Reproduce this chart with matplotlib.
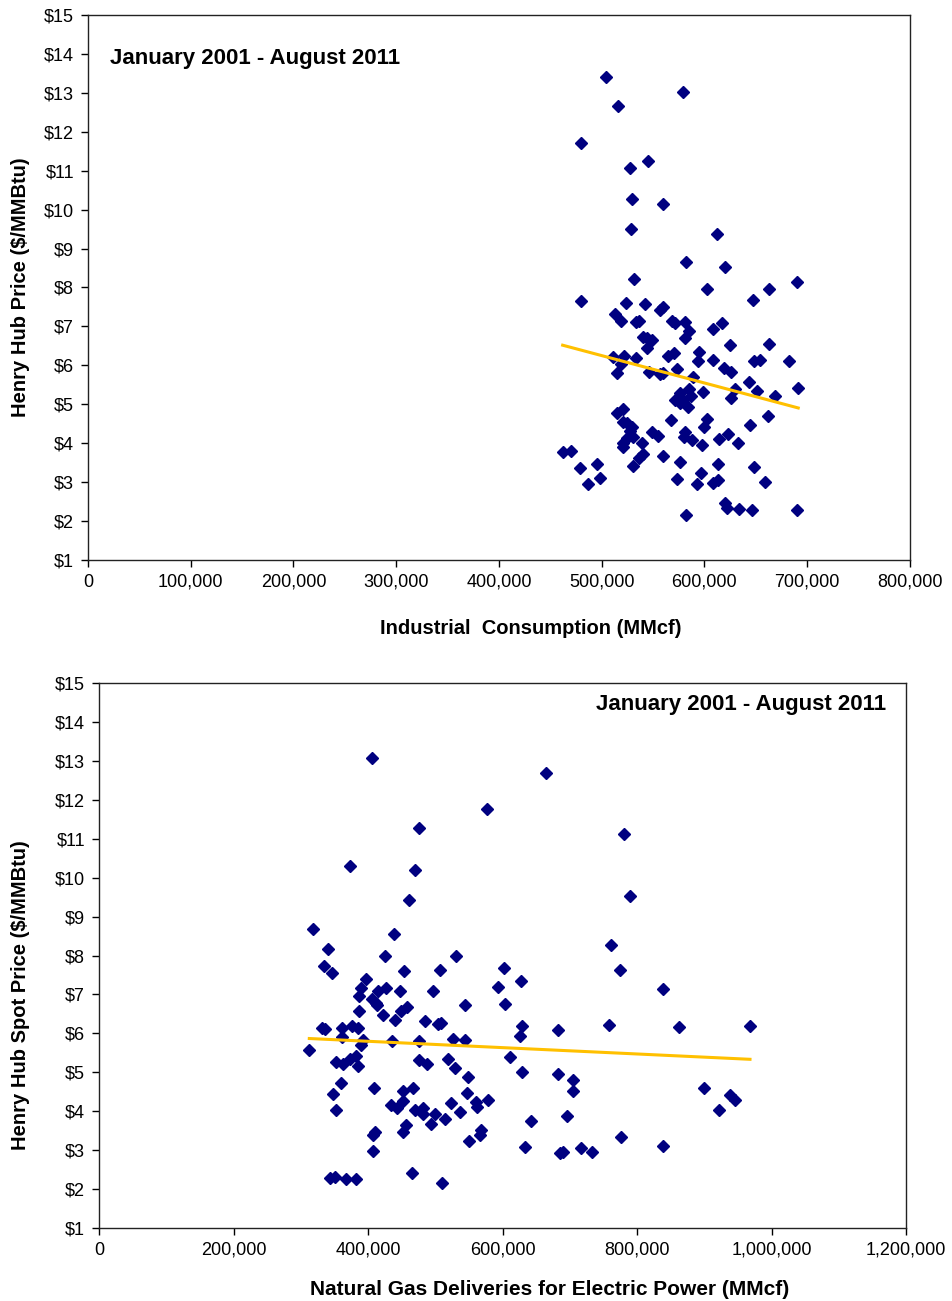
import matplotlib
matplotlib.use("Agg")
import matplotlib.pyplot as plt
import numpy as np
from matplotlib.ticker import FuncFormatter, MultipleLocator

plt.rcParams['font.family'] = ['Liberation Sans', 'DejaVu Sans']

# Top chart: industrial consumption (MMcf) vs Henry Hub price ($/MMBtu)
ind_x = [504400, 579400, 515500, 479800, 544700, 527800, 529700, 559600, 528500, 612500,
         582000, 620200, 531100, 602100, 662500, 690300, 646900, 479800, 523900, 542100,
         560000, 556700, 512900, 519000, 533000, 536300, 568000, 571300, 581300, 585200,
         581000, 607900, 617300, 540500, 543700, 548600, 543700, 624800, 662500, 511300,
         521700, 518400, 533300, 564800, 570300, 595000, 593400, 608600, 648200, 654000,
         681900, 514500, 546000, 556700, 560000, 572900, 588400, 619000, 625800, 643600,
         650700, 668300, 691300, 629700, 625800, 598800, 576200, 585200, 571300, 579400,
         584200, 576200, 586500, 515200, 521000, 521000, 524200, 529100, 527500, 524200,
         521000, 521000, 530000, 538800, 540500, 536600, 567400, 548600, 555000, 602100,
         599500, 581000, 580000, 587500, 597900, 614100, 623200, 632700, 644300, 662100,
         462000, 470400, 479100, 495000, 486300, 498300, 530400, 560000, 576200, 572900,
         596200, 593000, 613400, 608600, 612800, 648200, 658900, 620000, 622200, 633900,
         645900, 689700, 581700]
ind_price = [13.40, 13.02, 12.66, 11.72, 11.25, 11.07, 10.28, 10.15, 9.50, 9.38,
             8.66, 8.52, 8.23, 7.97, 7.96, 8.15, 7.69, 7.65, 7.61, 7.58,
             7.51, 7.41, 7.32, 7.15, 7.11, 7.15, 7.15, 7.08, 7.10, 6.87,
             6.70, 6.93, 7.08, 6.74, 6.70, 6.65, 6.44, 6.52, 6.55, 6.22,
             6.25, 6.04, 6.18, 6.25, 6.31, 6.34, 6.11, 6.14, 6.11, 6.14,
             6.12, 5.80, 5.84, 5.78, 5.80, 5.91, 5.69, 5.92, 5.82, 5.58,
             5.35, 5.21, 5.41, 5.39, 5.15, 5.32, 5.28, 5.38, 5.11, 5.11,
             4.94, 5.03, 5.21, 4.78, 4.87, 4.55, 4.51, 4.42, 4.30, 4.13,
             4.00, 3.91, 4.17, 4.00, 3.72, 3.61, 4.60, 4.28, 4.19, 4.61,
             4.42, 4.28, 4.17, 4.07, 3.95, 4.10, 4.23, 4.01, 4.47, 4.71,
             3.77, 3.81, 3.36, 3.47, 2.95, 3.11, 3.41, 3.68, 3.52, 3.08,
             3.23, 2.94, 3.47, 2.97, 3.06, 3.40, 3.00, 2.46, 2.33, 2.30,
             2.28, 2.28, 2.16]

# Bottom chart: natural gas deliveries for electric power (MMcf) vs spot price
elec_x = [406400, 664700, 577400, 475400, 780700, 373200, 469400, 460500, 789600, 318200,
          439100, 340500, 425300, 530900, 761800, 334600, 346500, 453100, 507100, 602200,
          775200, 627500, 397000, 390000, 386600, 415300, 426300, 448000, 497100, 593300,
          405500, 411900, 413900, 544700, 603700, 386600, 422800, 439700, 449500, 457500,
          484800, 504600, 508600, 331100, 336100, 360900, 375700, 385600, 360900, 628500,
          682500, 758800, 626000, 393000, 389100, 435200, 476300, 526800, 544200, 312700,
          611200, 352000, 363300, 373200, 382200, 384700, 476300, 487200, 519400, 529000,
          548200, 629500, 683000, 705300, 704300, 359900, 348400, 408900, 452500, 467300,
          546700, 352000, 433700, 442700, 452500, 469900, 482300, 481300, 499600, 493200,
          514900, 523400, 536800, 560600, 561600, 578900, 642400, 695400, 407000, 410400,
          456500, 452500, 567500, 566500, 550700, 407000, 634000, 685500, 689500, 716700,
          732600, 776200, 343500, 350900, 367300, 382200, 465900, 509600, 839100, 862000,
          968000, 899100, 938300, 945700, 921900, 839100]
elec_price = [13.07, 12.70, 11.76, 11.28, 11.11, 10.31, 10.19, 9.42, 9.54, 8.69,
              8.55, 8.17, 8.00, 7.99, 8.26, 7.73, 7.56, 7.60, 7.63, 7.67,
              7.63, 7.35, 7.40, 7.16, 6.96, 7.10, 7.16, 7.10, 7.10, 7.18,
              6.89, 6.77, 6.73, 6.74, 6.75, 6.57, 6.48, 6.35, 6.57, 6.69,
              6.32, 6.25, 6.27, 6.14, 6.12, 6.15, 6.18, 6.15, 5.90, 6.20,
              6.08, 6.21, 5.92, 5.82, 5.69, 5.80, 5.80, 5.85, 5.82, 5.58,
              5.39, 5.26, 5.22, 5.35, 5.43, 5.16, 5.31, 5.22, 5.33, 5.12,
              4.88, 5.01, 4.96, 4.79, 4.51, 4.72, 4.45, 4.60, 4.51, 4.59,
              4.48, 4.02, 4.17, 4.09, 4.26, 4.02, 4.09, 3.94, 3.94, 3.68,
              3.81, 4.21, 3.98, 4.24, 4.11, 4.28, 3.76, 3.87, 3.40, 3.46,
              3.64, 3.46, 3.53, 3.38, 3.23, 2.99, 3.08, 2.92, 2.95, 3.05,
              2.94, 3.35, 2.28, 2.31, 2.27, 2.27, 2.42, 2.16, 7.13, 6.16,
              6.20, 4.60, 4.41, 4.30, 4.02, 3.10]

period = "January 2001 - August 2011"
navy = "#000080"
gold = "#FFC000"


def draw(ax, x, y, xmax, xstep, xlabel, ylabel, xlabel_size):
    x = np.array(x)
    y = np.array(y)
    ax.plot(x, y, linestyle="none", marker="D", markersize=6.5, color=navy, zorder=3)
    # linear trendline like Excel
    m, b = np.polyfit(x, y, 1)
    xs = np.array([x.min(), x.max()])
    ax.plot(xs, m * xs + b, color=gold, linewidth=2.2, zorder=4)
    ax.set_xlim(0, xmax)
    ax.set_ylim(1, 15)
    ax.xaxis.set_major_locator(MultipleLocator(xstep))
    ax.yaxis.set_major_locator(MultipleLocator(1))
    ax.xaxis.set_major_formatter(FuncFormatter(lambda v, p: f"{int(v):,}"))
    ax.yaxis.set_major_formatter(FuncFormatter(lambda v, p: f"${int(v)}"))
    ax.tick_params(direction="out", length=5, width=1, labelsize=13, pad=5)
    for s in ax.spines.values():
        s.set_linewidth(1)
        s.set_color("#222222")
    ax.set_xlabel(xlabel, fontsize=xlabel_size, fontweight="bold")
    ax.set_ylabel(ylabel, fontsize=14.5, fontweight="bold")


fig = plt.figure(figsize=(9.52, 13.01), dpi=100)

ax1 = fig.add_axes([0.0924, 0.5696, 0.8634, 0.4189])
draw(ax1, ind_x, ind_price, 800000, 100000,
     "Industrial  Consumption (MMcf)", "Henry Hub Price ($/MMBtu)", 14.5)
ax1.xaxis.set_label_coords(0.539, -0.108)
ax1.yaxis.set_label_coords(-0.071, 0.5)
ax1.text(0.027, 0.921, period, transform=ax1.transAxes, fontsize=16,
         fontweight="bold", ha="left", va="center")

ax2 = fig.add_axes([0.104, 0.0561, 0.8477, 0.4189])
draw(ax2, elec_x, elec_price, 1200000, 200000,
     "Natural Gas Deliveries for Electric Power (MMcf)", "Henry Hub Spot Price ($/MMBtu)", 15)
ax2.xaxis.set_label_coords(0.558, -0.095)
ax2.yaxis.set_label_coords(-0.086, 0.428)
ax2.text(0.975, 0.961, period, transform=ax2.transAxes, fontsize=16,
         fontweight="bold", ha="right", va="center")

fig.savefig("out.png", dpi=100)
